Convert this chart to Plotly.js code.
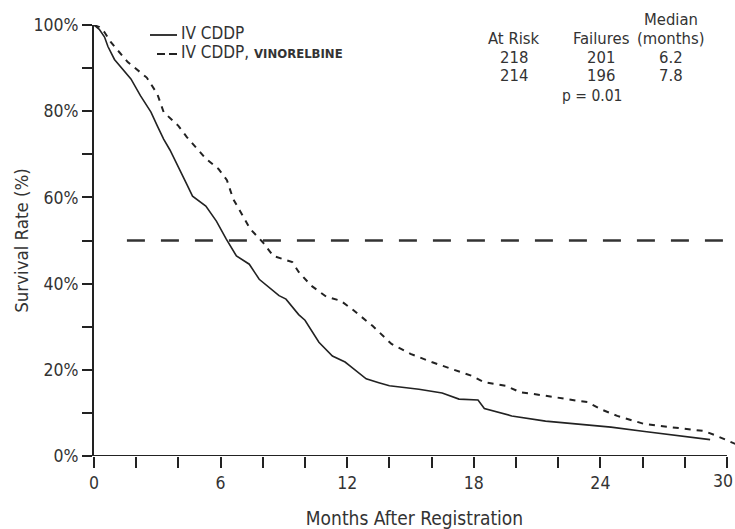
<!DOCTYPE html>
<html>
<head>
<meta charset="utf-8">
<script src="https://cdn.plot.ly/plotly-3.0.1.min.js"></script>
<style>html,body{margin:0;padding:0;background:#fff;}#chart{width:735px;height:529px;} #chart text{font-stretch:condensed;}</style>
</head>
<body>
<div id="chart"></div>
<script>
// IV CDDP (solid)
const cddpMonths = [0, 0.25, 0.5, 0.66, 0.97, 1.4, 1.75, 2.2, 2.7, 3.0, 3.3, 3.6, 4.06, 4.4, 4.67, 5.3, 5.8, 6.27, 6.75, 7.36, 7.83, 8.3, 8.77, 9.1, 9.7, 10.0, 10.66, 11.3, 11.9, 12.1, 12.9, 13.5, 14.0, 15.4, 16.5, 17.3, 18.2, 18.5, 19.8, 21.4, 22.9, 24.5, 26.1, 27.6, 29.2];
const cddpSurv   = [100, 99, 97.2, 95, 92, 89.5, 87.5, 83.6, 79.8, 76.6, 73.5, 71, 66.6, 63, 60.3, 58, 54.5, 50.3, 46.4, 44.5, 41, 39, 37.2, 36.4, 32.8, 31.5, 26.4, 23.2, 21.8, 21, 17.9, 17, 16.3, 15.5, 14.6, 13.2, 13.0, 11.0, 9.3, 8.1, 7.5, 6.7, 5.7, 4.7, 3.8];
// IV CDDP, VINORELBINE (dashed)
const vinoMonths = [0, 0.25, 0.5, 0.8, 1.6, 2.5, 3.0, 3.3, 4.0, 4.4, 5.3, 5.9, 6.3, 6.6, 7.4, 8.0, 8.5, 9.4, 9.7, 10.3, 11.0, 11.7, 12.3, 13.2, 14.1, 15.0, 16.0, 16.9, 17.9, 18.5, 19.5, 20.2, 21.4, 22.9, 23.4, 24.0, 24.8, 26.1, 27.6, 28.9, 29.5, 30.1, 30.4];
const vinoSurv   = [100, 99.5, 98.3, 96, 91.4, 87.8, 84, 79.8, 76.6, 74, 69, 66.6, 64, 59.6, 52.7, 49.6, 46.4, 45, 42.7, 39.5, 37, 36, 33.8, 30.2, 26, 23.7, 21.8, 20.2, 18.6, 17.1, 16.3, 14.8, 14, 12.8, 12.5, 10.9, 9.3, 7.4, 6.5, 5.8, 4.7, 3.5, 2.8];

const seriesNames = ['IV CDDP', 'IV CDDP, <span style="font-size:13px;font-weight:bold">VINORELBINE</span>'];

const xTicks = [0, 6, 12, 18, 24, 30];
const xTickLabels = ['0', '6', '12', '18', '24', ''];
const xLastLabel = '30';
const xMinorTicks = [2, 4, 8, 10, 14, 16, 20, 22, 26, 28];
const yTicks = [0, 20, 40, 60, 80, 100];
const yMinorTicks = [10, 30, 50, 70, 90];
const yTickLabels = ['0%', '20%', '40%', '60%', '80%', '100%'];
const medianRef = 50;

const tableHeaders = [['Median', 671, 19], ['At Risk', 514, 38], ['Failures', 601, 38], ['(months)', 671, 38]];
const tableRows = [['218', '201', '6.2'], ['214', '196', '7.8']];
const pValue = 'p = 0.01';

const FONT = '"DejaVu Sans Condensed", "DejaVu Sans", sans-serif';
const TXT = '#333';

const L = 94, R = 0, T = 25, B = 73, W = 735, H = 529;
const pw = W - L - R, ph = H - T - B;
const px2x = p => (p - L) / pw;
const px2y = p => (H - B - p) / ph;

const traces = [
  {x: cddpMonths, y: cddpSurv, mode: 'lines', name: seriesNames[0], showlegend: false,
   line: {color: '#222', width: 1.6}},
  {x: vinoMonths, y: vinoSurv, mode: 'lines', name: seriesNames[1], showlegend: false,
   line: {color: '#222', width: 2, dash: '6px,6px'}}
];

const annotations = [];
const tfont = {family: FONT, size: 16.5, color: TXT};
tableHeaders.forEach(h => annotations.push({text: h[0], x: px2x(h[1]), y: px2y(h[2]), xref: 'paper', yref: 'paper', showarrow: false, xanchor: 'center', yanchor: 'middle', font: tfont}));
const colX = [514, 601, 671];
tableRows.forEach((row, i) => row.forEach((v, j) => annotations.push({text: v, x: px2x(colX[j]), y: px2y(57 + i * 18), xref: 'paper', yref: 'paper', showarrow: false, xanchor: 'center', yanchor: 'middle', font: tfont})));
annotations.push({text: pValue, x: px2x(592), y: px2y(96), xref: 'paper', yref: 'paper', showarrow: false, xanchor: 'center', yanchor: 'middle', font: {family: FONT, size: 15.5, color: TXT}});
// legend text
annotations.push({text: seriesNames[0], x: px2x(179), y: px2y(33), xref: 'paper', yref: 'paper', showarrow: false, xanchor: 'left', yanchor: 'middle', font: {family: FONT, size: 17, color: TXT}});
annotations.push({text: seriesNames[1], x: px2x(179), y: px2y(52), xref: 'paper', yref: 'paper', showarrow: false, xanchor: 'left', yanchor: 'middle', font: {family: FONT, size: 17, color: TXT}});
// last x tick label, kept inside the page
annotations.push({text: xLastLabel, x: 30, xref: 'x', y: px2y(470), yref: 'paper', showarrow: false, xanchor: 'center', yanchor: 'top', xshift: -4, borderpad: 0, font: {family: FONT, size: 17.5, color: TXT}});

const layout = {
  width: W, height: H,
  margin: {l: L, r: R, t: T, b: B, pad: 0},
  paper_bgcolor: '#fff', plot_bgcolor: '#fff',
  font: {family: FONT, color: TXT, size: 16},
  showlegend: false,
  xaxis: {range: [0, 30.38], tickvals: xTicks, ticktext: xTickLabels,
          showgrid: false, zeroline: false, showline: false,
          ticks: 'outside', ticklen: 11, tickwidth: 2, tickcolor: '#222',
          minor: {tickvals: xMinorTicks, ticks: 'outside', ticklen: 11, tickwidth: 2, tickcolor: '#222'},
          tickfont: {family: FONT, size: 17.5, color: TXT},
          title: {text: 'Months After Registration', font: {family: FONT, size: 19, color: TXT}, standoff: 20}},
  yaxis: {range: [0, 100], tickvals: yTicks, ticktext: yTickLabels,
          showgrid: false, zeroline: false, showline: true, linecolor: '#222', linewidth: 2,
          ticks: 'outside', ticklen: 10, tickwidth: 2, tickcolor: '#222',
          minor: {tickvals: yMinorTicks, ticks: 'outside', ticklen: 10, tickwidth: 2, tickcolor: '#222'},
          tickfont: {family: FONT, size: 17.5, color: TXT},
          title: {text: 'Survival Rate (%)', font: {family: FONT, size: 18.5, color: TXT}, standoff: 0}},
  shapes: [
    {type: 'line', xref: 'x', yref: 'y', x0: 0, x1: 30, y0: 0, y1: 0, line: {color: '#222', width: 2}},
    {type: 'line', xref: 'x', yref: 'y', x0: 1.56, x1: 30.38, y0: medianRef, y1: medianRef, line: {color: '#333', width: 2.4, dash: '18px,16px'}},
    // legend samples
    {type: 'line', xref: 'paper', yref: 'paper', x0: px2x(150), x1: px2x(177), y0: px2y(35), y1: px2y(35), line: {color: '#222', width: 1.8}},
    {type: 'line', xref: 'paper', yref: 'paper', x0: px2x(157), x1: px2x(177), y0: px2y(54), y1: px2y(54), line: {color: '#222', width: 1.8, dash: '8px,4px'}}
  ],
  annotations: annotations
};

Plotly.newPlot('chart', traces, layout, {displayModeBar: false, staticPlot: true});
</script>
</body>
</html>
